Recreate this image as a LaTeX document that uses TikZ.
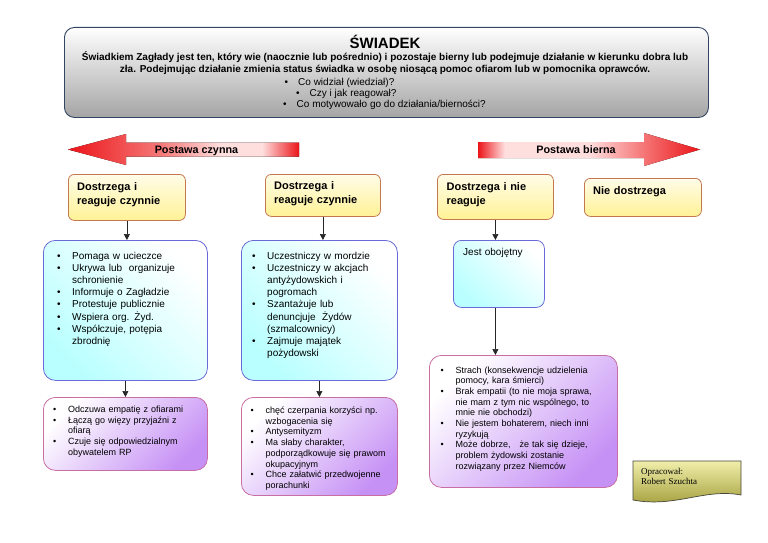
\documentclass[tikz,border=0pt]{standalone}
\usepackage{fontspec}
\setmainfont{Liberation Sans}
\newfontfamily\serifnote{Liberation Serif}
\usetikzlibrary{arrows.meta,calc}

\definecolor{ybord}{RGB}{196,120,80}
\definecolor{ytop}{RGB}{255,252,232}
\definecolor{ybot}{RGB}{255,242,150}
\definecolor{bbord}{RGB}{105,105,215}
\definecolor{bcyan}{RGB}{185,255,255}
\definecolor{pbord}{RGB}{200,110,165}
\definecolor{ppur}{RGB}{198,145,245}
\definecolor{gbord}{RGB}{50,70,100}
\definecolor{gbot}{RGB}{165,165,165}
\definecolor{ared}{RGB}{235,20,25}
\definecolor{amid}{RGB}{245,120,120}
\definecolor{apink}{RGB}{255,222,222}
\definecolor{olt}{RGB}{240,238,170}
\definecolor{olb}{RGB}{160,155,55}
\definecolor{olbord}{RGB}{70,70,60}

\pgfdeclarehorizontalshading{arrowL}{100bp}{color(0bp)=(ared); color(25bp)=(ared); color(45bp)=(amid); color(58bp)=(apink); color(67bp)=(apink); color(75bp)=(ared); color(100bp)=(ared)}
\pgfdeclarehorizontalshading{arrowR}{100bp}{color(0bp)=(ared); color(25bp)=(ared); color(31bp)=(apink); color(50bp)=(apink); color(62bp)=(amid); color(75bp)=(ared); color(100bp)=(ared)}

\newlength{\bind}
\setlength{\bind}{15pt}
\newcommand{\nl}{\hfil\break}
\newcommand{\bfirst}[1]{\hangindent=\bind\hangafter=1\makebox[\bind][l]{•}#1}
\newcommand{\bitem}[1]{\par\hangindent=\bind\hangafter=1\noindent\makebox[\bind][l]{•}#1}

\tikzset{
  ybox/.style={draw=ybord, line width=0.8pt, rounded corners=6pt, top color=ytop, bottom color=ybot, inner sep=0pt, anchor=north west},
  bbox/.style={draw=bbord, line width=0.8pt, rounded corners=12pt, top color=white, bottom color=bcyan, shading angle=-45, inner sep=0pt, anchor=north west},
  pbox/.style={draw=pbord, line width=0.8pt, rounded corners=12pt, top color=white, bottom color=ppur, shading angle=45, inner sep=0pt, anchor=north west},
  ytext/.style={font=\fontsize{11}{14.3}\selectfont\bfseries, text width=120pt, align=left, inner sep=0pt, anchor=base west},
  ltext/.style={font=\fontsize{10}{12.2}\selectfont, text width=200pt, align=left, inner sep=0pt, anchor=base west},
  stext/.style={font=\fontsize{9}{10.7}\selectfont, text width=220pt, align=left, inner sep=0pt, anchor=base west},
  conn/.style={draw=black!85, line width=0.7pt, -{Triangle[length=6pt,width=6pt]}},
  alabel/.style={font=\fontsize{10.8}{13}\selectfont\bfseries, inner sep=0pt, anchor=base},
  ttext/.style={inner sep=0pt, anchor=base},
  qtext/.style={inner sep=0pt, anchor=base west, font=\fontsize{10}{12}\selectfont}
}

\begin{document}
\begin{tikzpicture}[x=1pt,y=-1pt]
\useasboundingbox[fill=white] (0,0) rectangle (768,543);

% top box
\node[draw=gbord, line width=0.9pt, rounded corners=10pt, top color=white, bottom color=gbot,
      minimum width=644pt, minimum height=90pt, inner sep=0pt, anchor=north west] (top) at (64,27) {};
\node[ttext, font=\fontsize{15}{17}\selectfont\bfseries] (title) at (385,48.5) {ŚWIADEK};
\node[ttext, font=\fontsize{10}{12}\selectfont\bfseries] (def1) at (385,60.5) {Świadkiem Zagłady jest ten, który wie (naocznie lub pośrednio) i pozostaje bierny lub podejmuje działanie w kierunku dobra lub};
\node[ttext, font=\fontsize{10}{12}\selectfont\bfseries] (def2) at (385,72.5) {zła. Podejmując działanie zmienia status świadka w osobę niosącą pomoc ofiarom lub w pomocnika oprawców.};
\node[qtext] (q1) at (284.5,85.5) {\makebox[13.5pt][l]{•}Co widział (wiedział)?};
\node[qtext] (q2) at (296,96.5) {\makebox[13.5pt][l]{•}Czy i jak reagował?};
\node[qtext] (q3) at (283,107.5) {\makebox[13.5pt][l]{•}Co motywowało go do działania/bierności?};

% big arrows
\fill[shading=arrowL] (68,149.5) -- (126,134) -- (126,142.5) -- (299,142.5) -- (299,156.5) -- (126,156.5) -- (126,165) -- cycle;
\node[alabel] (lczyn) at (196.5,153.5) {Postawa czynna};
\fill[shading=arrowR] (700,149.5) -- (644,133) -- (644,142) -- (478,142) -- (478,158) -- (644,158) -- (644,166) -- cycle;
\node[alabel] (lbier) at (576,153.5) {Postawa bierna};

% yellow boxes
\node[ybox, minimum width=117pt, minimum height=46pt] (y1) at (68,174) {};
\node[ytext] (y1t) at (77,190.5) {Dostrzega i\\reaguje czynnie};
\node[ybox, minimum width=115pt, minimum height=42pt] (y2) at (265,174) {};
\node[ytext] (y2t) at (274,189.5) {Dostrzega i\\reaguje czynnie};
\node[ybox, minimum width=116pt, minimum height=45pt] (y3) at (437,174) {};
\node[ytext] (y3t) at (446.5,190) {Dostrzega i nie\\reaguje};
\node[ybox, minimum width=117pt, minimum height=38pt] (y4) at (584,178) {};
\node[ytext] (y4t) at (593,194) {Nie dostrzega};

% blue boxes
\node[bbox, minimum width=164pt, minimum height=140pt] (b1) at (43,240) {};
\node[ltext] (b1t) at (57,259) {%
\bfirst{Pomaga w ucieczce}
\bitem{Ukrywa lub\ \ organizuje\nl schronienie}
\bitem{Informuje o Zagładzie}
\bitem{Protestuje publicznie}
\bitem{Wspiera org. Żyd.}
\bitem{Współczuje, potępia\nl zbrodnię}\par};

\node[bbox, minimum width=156pt, minimum height=140pt] (b2) at (241,240) {};
\node[ltext] (b2t) at (252,259) {%
\bfirst{Uczestniczy w mordzie}
\bitem{Uczestniczy w akcjach\nl antyżydowskich i\nl pogromach}
\bitem{Szantażuje lub\nl denuncjuje\ \ Żydów\nl (szmalcownicy)}
\bitem{Zajmuje majątek\nl pożydowski}\par};

\node[bbox, rounded corners=8pt, minimum width=91pt, minimum height=67pt] (j) at (453,240) {};
\node[ltext] (jt) at (463,255.5) {Jest obojętny};

% purple boxes
\node[pbox, minimum width=164pt, minimum height=73pt] (p1) at (43,397) {};
\node[stext] (p1t) at (53,412.5) {%
\bfirst{Odczuwa empatię z ofiarami}
\bitem{Łączą go więzy przyjaźni z\nl ofiarą}
\bitem{Czuje się odpowiedzialnym\nl obywatelem RP}\par};

\node[pbox, minimum width=156pt, minimum height=98pt] (p2) at (241,397) {};
\node[stext] (p2t) at (250.5,413.5) {%
\bfirst{chęć czerpania korzyści np.\nl wzbogacenia się}
\bitem{Antysemityzm}
\bitem{Ma słaby charakter,\nl podporządkowuje się prawom\nl okupacyjnym}
\bitem{Chce załatwić przedwojenne\nl porachunki}\par};

\node[pbox, minimum width=188pt, minimum height=132pt] (p3) at (429,355) {};
\node[stext] (p3t) at (440.5,373) {%
\bfirst{Strach (konsekwencje udzielenia\nl pomocy, kara śmierci)}
\bitem{Brak empatii (to nie moja sprawa,\nl nie mam z tym nic wspólnego, to\nl mnie nie obchodzi)}
\bitem{Nie jestem bohaterem, niech inni\nl ryzykują}
\bitem{Może dobrze,\ \ \ że tak się dzieje,\nl problem żydowski zostanie\nl rozwiązany przez Niemców}\par};

% connectors
\draw[conn] (y1.south) -- (y1.south |- b1.north);
\draw[conn] (b1.south) -- (p1.north);
\draw[conn] (y2.south) -- (y2.south |- b2.north);
\draw[conn] (b2.south) -- (p2.north);
\draw[conn] (y3.south) -- (y3.south |- j.north);
\draw[conn] (y3.south |- j.south) -- (y3.south |- p3.north);

% note
\shade[draw=olbord, line width=0.7pt, top color=olt, bottom color=olb]
  (633,461) -- (741,461) -- (741,495) .. controls (705,488) and (675,508) .. (633,500) -- cycle;
\node[inner sep=0pt, anchor=base west, text width=95pt, align=left, font=\serifnote\fontsize{9}{10.5}\selectfont] (note) at (641,474) {Opracował:\\Robert Szuchta};
\end{tikzpicture}
\end{document}
